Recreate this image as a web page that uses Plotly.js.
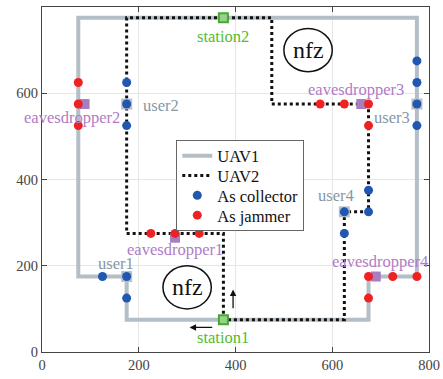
<!DOCTYPE html>
<html><head><meta charset="utf-8">
<script src="https://cdn.plot.ly/plotly-3.0.1.min.js"></script>
<style>body{margin:0;padding:0;background:#fff}#chart{width:443px;height:379px}</style>
</head><body><div id="chart"></div>
<script>
// UAV trajectories
const uav1X = [375, 175, 175, 75, 75, 775, 775, 675, 675, 375];
const uav1Y = [75, 75, 175, 175, 775, 775, 175, 175, 75, 75];
const uav2X = [375, 375, 175, 175, 475, 475, 675, 675, 625, 625, 375];
const uav2Y = [75, 275, 275, 775, 775, 575, 575, 325, 325, 75, 75];
// collector (blue) points
const colX = [125, 175, 175, 175, 175, 175, 775, 775, 775, 775, 625, 675, 625, 675];
const colY = [175, 175, 125, 625, 575, 525, 675, 625, 575, 525, 325, 325, 275, 375];
// jammer (red) points
const jamX = [75, 75, 75, 225, 275, 325, 575, 625, 675, 675, 675, 725, 775, 675];
const jamY = [625, 575, 525, 275, 275, 275, 575, 575, 575, 525, 175, 175, 175, 125];
// users
const userNames = ['user1', 'user2', 'user3', 'user4'];
const userX = [175, 175, 775, 625];
const userY = [175, 575, 575, 325];
const userLabX = [152, 204, 682, 608];
const userLabY = [205, 572, 544, 363];
const userAnchor = ['center', 'left', 'left', 'center'];
// eavesdroppers
const eveNames = ['eavesdropper1', 'eavesdropper2', 'eavesdropper3', 'eavesdropper4'];
const eveX = [275, 88, 660, 690];
const eveY = [265, 575, 575, 175];
const eveLabX = [275, 62, 649, 698];
const eveLabY = [238, 544, 608, 211];
// stations
const stNames = ['station1', 'station2'];
const stX = [375, 375];
const stY = [75, 775];
const stLabX = [375, 375];
const stLabY = [33, 731];
// no-fly zones
const nfzX = [300, 550];
const nfzY = [150, 700];
const nfzR = 50;

const traces = [
  {x: uav1X, y: uav1Y, mode: 'lines', name: 'UAV1', line: {color: '#b4bec6', width: 4}},
  {x: uav2X, y: uav2Y, mode: 'lines', name: 'UAV2', line: {color: '#111', width: 3, dash: 'dot'}},
  {x: userX, y: userY, mode: 'markers', showlegend: false, marker: {symbol: 'square', size: 11, color: '#b9c1c7'}},
  {x: eveX, y: eveY, mode: 'markers', showlegend: false, marker: {symbol: 'square', size: 10, color: '#a87ec2'}},
  {x: stX, y: stY, mode: 'markers', showlegend: false, marker: {symbol: 'square', size: 9, color: '#9ad08a', line: {color: '#44aa33', width: 2}}},
  {x: colX, y: colY, mode: 'markers', name: 'As collector', marker: {color: '#2157b0', size: 9}},
  {x: jamX, y: jamY, mode: 'markers', name: 'As jammer', marker: {color: '#ee2222', size: 9}}
];

const ann = [];
userNames.forEach((t, i) => ann.push({x: userLabX[i], y: userLabY[i], text: t, showarrow: false, xanchor: userAnchor[i], font: {size: 16.5, color: '#8797a6'}}));
eveNames.forEach((t, i) => ann.push({x: eveLabX[i], y: eveLabY[i], text: t, showarrow: false, font: {size: 16.5, color: '#b07cc6'}}));
stNames.forEach((t, i) => ann.push({x: stLabX[i], y: stLabY[i], text: t, showarrow: false, font: {size: 16.5, color: '#55bb33'}}));
nfzX.forEach((x, i) => ann.push({x: x, y: nfzY[i], text: 'nfz', showarrow: false, font: {size: 24, color: '#111'}}));
// direction arrows
ann.push({x: 305, y: 57, ax: 355, ay: 57, axref: 'x', ayref: 'y', xref: 'x', yref: 'y', text: '', showarrow: true, arrowhead: 2, arrowsize: 1, arrowwidth: 1.3, arrowcolor: '#111'});
ann.push({x: 395, y: 145, ax: 395, ay: 98, axref: 'x', ayref: 'y', xref: 'x', yref: 'y', text: '', showarrow: true, arrowhead: 2, arrowsize: 1, arrowwidth: 1.3, arrowcolor: '#111'});

const shapes = nfzX.map((x, i) => ({type: 'circle', xref: 'x', yref: 'y', x0: x - nfzR, x1: x + nfzR, y0: nfzY[i] - nfzR, y1: nfzY[i] + nfzR, line: {color: '#111', width: 1.5}}));

function axis() {
  return {
    range: [0, 800], tickvals: [0, 200, 400, 600, 800], showgrid: true, gridcolor: '#e6e6e6', gridwidth: 1,
    zeroline: false, showline: true, mirror: 'ticks', linecolor: '#444', linewidth: 1,
    ticks: 'inside', ticklen: 5, tickcolor: '#444', tickfont: {size: 14.5, color: '#444'}
  };
}

const layout = {
  width: 443, height: 379,
  font: {family: 'Liberation Serif', size: 15, color: '#111'},
  margin: {l: 42, r: 14, t: 7, b: 27},
  paper_bgcolor: '#fff', plot_bgcolor: '#fff',
  xaxis: axis(),
  yaxis: axis(),
  showlegend: true,
  legend: {x: 0.347, y: 0.615, xanchor: 'left', yanchor: 'top', bgcolor: '#fff', bordercolor: '#666', borderwidth: 1,
    font: {size: 16.5, color: '#111'}, tracegroupgap: 0, itemwidth: 30},
  annotations: ann,
  shapes: shapes
};

Plotly.newPlot('chart', traces, layout, {displayModeBar: false, staticPlot: true}).then(function () {
  // tighten legend row spacing to match the reference
  const rowH = 19.8;
  const items = document.querySelectorAll('#chart .legend .traces');
  if (items.length < 2) return;
  const parse = el => {
    const m = /translate\(\s*([-\d.]+)[ ,]+([-\d.]+)/.exec(el.getAttribute('transform') || '');
    return m ? [parseFloat(m[1]), parseFloat(m[2])] : null;
  };
  const p0 = parse(items[0]), p1 = parse(items[1]);
  if (!p0 || !p1) return;
  const s = p1[1] - p0[1];
  const shift = (s - rowH) / 2;
  items.forEach((el, i) => {
    const p = parse(el);
    el.setAttribute('transform', 'translate(' + p[0] + ',' + (p0[1] - shift + i * rowH) + ')');
  });
  const bg = document.querySelector('#chart .legend rect.bg');
  if (bg) {
    const h = parseFloat(bg.getAttribute('height'));
    bg.setAttribute('height', h - items.length * (s - rowH));
  }
});
</script>
</body></html>
